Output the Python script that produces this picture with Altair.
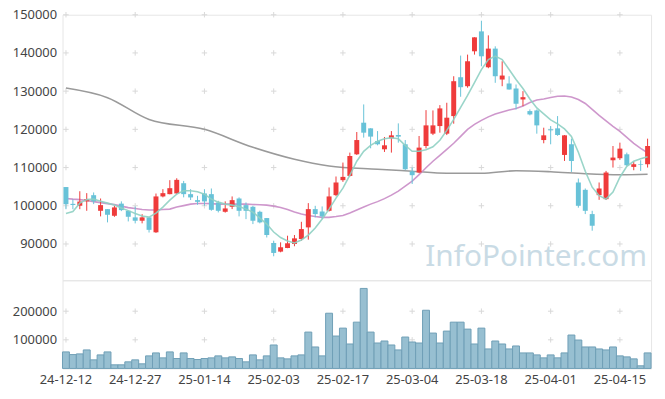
import altair as alt
import pandas as pd

dates = [
    "24-12-12", "24-12-13", "24-12-16", "24-12-17", "24-12-18", "24-12-19", "24-12-20", "24-12-23",
    "24-12-24", "24-12-26", "24-12-27", "24-12-30",
    "25-01-02", "25-01-03", "25-01-06", "25-01-07", "25-01-08", "25-01-09", "25-01-10", "25-01-13",
    "25-01-14", "25-01-15", "25-01-16", "25-01-17", "25-01-20", "25-01-21", "25-01-22", "25-01-23",
    "25-01-24", "25-01-31",
    "25-02-03", "25-02-04", "25-02-05", "25-02-06", "25-02-07", "25-02-10", "25-02-11", "25-02-12",
    "25-02-13", "25-02-14", "25-02-17", "25-02-18", "25-02-19", "25-02-20", "25-02-21", "25-02-24",
    "25-02-25", "25-02-26", "25-02-27", "25-02-28",
    "25-03-04", "25-03-05", "25-03-06", "25-03-07", "25-03-10", "25-03-11", "25-03-12", "25-03-13",
    "25-03-14", "25-03-17", "25-03-18", "25-03-19", "25-03-20", "25-03-21", "25-03-24", "25-03-25",
    "25-03-26", "25-03-27", "25-03-28", "25-03-31",
    "25-04-01", "25-04-02", "25-04-03", "25-04-04", "25-04-07", "25-04-08", "25-04-09", "25-04-10",
    "25-04-11", "25-04-14", "25-04-15", "25-04-16", "25-04-17", "25-04-18", "25-04-21",
]

opens = [104900, 100500, 100000, 101150, 102770, 98680, 99120, 97380, 100560, 98680,
         96960, 96080, 96960, 93050, 102440, 103040, 103220, 105900, 103040, 101470,
         103220, 103040, 100870, 98420, 99730, 101900, 100170, 99730, 98420, 96780,
         90250, 88000, 88950, 90000, 91300, 94340, 99120, 98500, 98680, 102780,
         106700, 107810, 113470, 121740, 120260, 116950, 114780, 117640, 118520, 116090,
         109000, 108700, 115640, 118870, 120860, 118870, 123470, 133640, 131290, 140430,
         145640, 136250, 141130, 133040, 132000, 130690, 127820, 124780, 124950, 117200,
         120000, 120260, 113300, 116090, 106090, 104170, 97820, 102780, 101730, 111910,
         112440, 113470, 110170, 110870, 110870]
closes = [100400, 100200, 101100, 101730, 101150, 100170, 97640, 99570, 98860, 97120,
          96080, 96960, 93700, 102440, 103300, 104600, 106780, 103040, 102180, 101030,
          101140, 98940, 98680, 99300, 101470, 98680, 98680, 96080, 95650, 92340,
          87650, 89140, 90180, 91470, 93900, 99120, 97820, 97210, 102440, 106090,
          107560, 113030, 117200, 119130, 118100, 116090, 115820, 118430, 118090, 109560,
          108000, 115220, 121040, 121040, 125480, 123050, 132600, 131030, 137820, 144080,
          139120, 141130, 133900, 134080, 130430, 126700, 128420, 123900, 121040, 118430,
          119740, 118520, 118430, 111730, 99990, 98680, 94770, 104520, 108700, 112610,
          114950, 110600, 110870, 110700, 115640]
highs = [104900, 101700, 103800, 103300, 103480, 101900, 99120, 100000, 101150, 98700,
         99800, 97800, 97000, 103200, 104340, 106700, 107200, 106500, 104340, 102600,
         104340, 104520, 101300, 101150, 102440, 102200, 100870, 100000, 98700, 96800,
         90860, 90430, 92160, 92340, 95800, 100690, 99990, 99820, 104780, 107660,
         111310, 113910, 119300, 126520, 120300, 119550, 118000, 119550, 121560, 117200,
         110000, 118260, 125030, 124950, 126340, 126960, 133900, 139300, 139560, 144100,
         148430, 144600, 141730, 137820, 133900, 131740, 130000, 125220, 125200, 120430,
         120860, 123470, 118500, 117560, 107130, 104520, 98680, 106090, 109120, 115640,
         116520, 113910, 111570, 111910, 117560]
lows = [99100, 99100, 99100, 98680, 100430, 97220, 95650, 97100, 98600, 95900,
        95390, 95400, 93000, 92900, 102200, 103000, 103000, 102200, 101500, 100250,
        100000, 98700, 98260, 98200, 99120, 97220, 96500, 95200, 95400, 91700,
        86780, 87820, 88900, 89400, 90860, 91130, 96960, 96500, 98500, 102500,
        106250, 107660, 113300, 117840, 115040, 115820, 114080, 113910, 116520, 109300,
        105700, 108500, 115000, 118500, 119130, 118500, 121480, 128530, 130900, 139560,
        136510, 136000, 132180, 131290, 130400, 125220, 126080, 123660, 118870, 116350,
        116090, 118300, 111730, 108850, 99500, 97820, 93470, 101550, 101500, 110000,
        112000, 110300, 109300, 109120, 110000]
volumes = [57750, 48510, 50820, 64680, 30030, 47360, 57750, 12700, 12700, 23100,
           30030, 16170, 43890, 54290, 36960, 57750, 34650, 54290, 34650, 31190,
           34650, 36960, 43890, 36960, 40430, 34650, 23100, 47360, 30030, 43890,
           82000, 36960, 33500, 43890, 47360, 127000, 75080, 43890, 192900, 113200,
           140900, 85470, 161700, 279500, 127000, 88900, 95900, 82000, 64680, 109700,
           92400, 88900, 203300, 123600, 88900, 130500, 161700, 161700, 137400, 85470,
           140900, 68150, 95900, 85470, 68150, 78540, 54290, 54290, 47360, 36960,
           47360, 36960, 54290, 116700, 99300, 75080, 75080, 68150, 64680, 75080,
           43890, 40430, 33500, 9240, 54290]
ma5 = [97950, 98470, 100690, 101600, 101730, 101210, 100690, 100170, 99390, 98730,
       97950, 97300, 97040, 98080, 99650, 101470, 103040, 103950, 103950, 103690,
       103040, 101730, 100950, 100430, 100170, 99780, 99120, 98340, 96780, 95210,
       93120, 91690, 90780, 90250, 91040, 92340, 94170, 96520, 99120, 101990,
       104600, 107990, 111650, 114260, 115820, 116860, 117520, 117780, 117520, 115820,
       114260, 114260, 114650, 115430, 117130, 119740, 122600, 125740, 128870, 132260,
       135650, 138260, 139170, 138260, 135650, 133040, 130690, 127950, 125610, 124040,
       122470, 121430, 120130, 118170, 114000, 109040, 104860, 102650, 101730, 103560,
       107470, 110340, 111650, 112300, 112820]
ma20 = [101910, 101730, 101600, 101390, 101080, 100820, 100560, 100300, 99910, 99520,
        99260, 99000, 98870, 98870, 99000, 99120, 99650, 100040, 100430, 100610,
        100610, 100560, 100430, 100430, 100430, 100430, 100430, 100350, 100250, 100170,
        99910, 99570, 99000, 98340, 97820, 97430, 97170, 96960, 96960, 97170,
        97430, 98080, 98870, 99650, 100430, 101080, 101860, 102780, 103820, 105130,
        106430, 108130, 109950, 111650, 113210, 114780, 116350, 118170, 120000, 121300,
        122340, 123260, 124040, 124560, 125080, 125480, 126130, 127040, 127690, 127950,
        128350, 128660, 128740, 128480, 127820, 126780, 125210, 123650, 122210, 120780,
        119470, 117910, 116350, 115040, 113870]
ma120_at = [0, 6, 12, 20, 27, 33, 38, 45, 50, 55, 60, 65, 70, 75, 80, 84]
ma120 = [130800, 128300, 122600, 120000, 115300, 112170, 110430, 109560, 109040,
         108520, 108520, 109170, 108900, 108390, 108130, 108260]

price_ticks = [90000, 100000, 110000, 120000, 130000, 140000, 150000]
vol_ticks = [100000, 200000]
label_dates = dates[::10]

RED = "#ef3b3b"
BLUE = "#68c2d8"

candles = pd.DataFrame({
    "date": dates, "open": opens, "close": closes, "high": highs, "low": lows,
    "volume": volumes, "ma5": ma5, "ma20": ma20,
})
candles["dir"] = ["up" if c >= o else "down" for o, c in zip(opens, closes)]
ma120_df = pd.DataFrame({"date": [dates[i] for i in ma120_at], "ma120": ma120})

xscale = alt.Scale(type="band", domain=dates, paddingInner=0, paddingOuter=0)
xenc = alt.X("date:N", scale=xscale, axis=None, title=None)
col = alt.Color("dir:N", scale=alt.Scale(domain=["up", "down"], range=[RED, BLUE]), legend=None)

yprice = alt.Y("low:Q", scale=alt.Scale(domain=[80500, 150000], nice=False, zero=False),
               axis=alt.Axis(values=price_ticks, format="d", grid=False, ticks=False, domain=False,
                             labelPadding=6, labelFontSize=13, labelColor="#444",
                             labelFont="Noto Sans"),
               title=None)

base = alt.Chart(candles)
wicks = base.mark_rule(strokeWidth=1).encode(x=xenc, y=yprice, y2="high:Q", color=col)
bodies = base.mark_bar(width=5).encode(x=xenc, y="open:Q", y2="close:Q", color=col)
line5 = base.mark_line(color="#8fd0c3", strokeWidth=1.6, opacity=0.9).encode(x=xenc, y="ma5:Q")
line20 = base.mark_line(color="#c98cc7", strokeWidth=1.6, opacity=0.9).encode(x=xenc, y="ma20:Q")
line120 = alt.Chart(ma120_df).mark_line(color="#9a9a9a", strokeWidth=1.6, interpolate="monotone").encode(
    x=xenc, y="ma120:Q")

cross_shape = "M-1,0L1,0M0,-1L0,1"
pcross = pd.DataFrame([(d, v) for d in label_dates for v in price_ticks], columns=["date", "v"])
crosses_p = alt.Chart(pcross).mark_point(shape=cross_shape, size=30, filled=False,
                                         color="#d9d9d9", strokeWidth=1, opacity=1).encode(
    x=xenc, y="v:Q")

wm = alt.Chart(pd.DataFrame({"t": ["InfoPointer.com"]})).mark_text(
    fontSize=30, font="Noto Sans", color="#c9dbe5", align="center", baseline="middle").encode(
    x=alt.value(478), y=alt.value(245), text="t:N")

price = alt.layer(crosses_p, wm, line120, line20, wicks, bodies, line5).properties(width=594, height=268)

vcross = pd.DataFrame([(d, v) for d in label_dates for v in vol_ticks], columns=["date", "v"])
xvol = alt.X("date:N", scale=xscale, title=None,
             axis=alt.Axis(values=label_dates, labelAngle=0, ticks=False, domain=False, grid=False,
                           labelPadding=5, labelFontSize=13, labelColor="#444", labelFont="Noto Sans"))
yvol = alt.Y("volume:Q", scale=alt.Scale(domain=[0, 308000], nice=False),
             axis=alt.Axis(values=vol_ticks, format="d", grid=False, ticks=False, domain=False,
                           labelPadding=6, labelFontSize=13, labelColor="#444", labelFont="Noto Sans"),
             title=None)
vbars = alt.Chart(candles).mark_bar(fill="#97bfd1", stroke="#6f9fb6", strokeWidth=1).encode(
    x=xvol, y=yvol)
crosses_v = alt.Chart(vcross).mark_point(shape=cross_shape, size=30, filled=False,
                                         color="#d9d9d9", strokeWidth=1, opacity=1).encode(
    x=xvol, y="v:Q")
volume = alt.layer(crosses_v, vbars).properties(width=594, height=89)

chart = alt.vconcat(price, volume, spacing=0, bounds="flush").properties(
    padding={"top": -2, "left": 3, "right": 5, "bottom": 5},
    background="white",
).configure_view(stroke="#e6e6e6", strokeWidth=1)

chart.save("out.html", embed_options={"renderer": "svg", "actions": False})
